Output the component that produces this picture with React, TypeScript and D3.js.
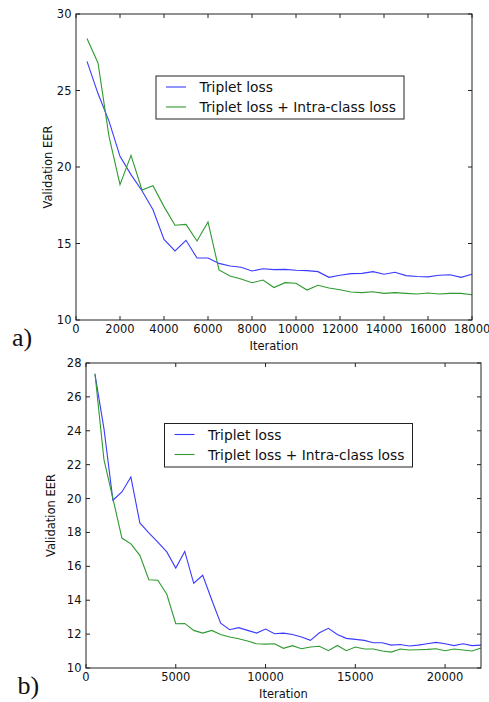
import React from "react";
import * as d3 from "d3";

// ---------- Data ----------
const iterA = [500,1000,1500,2000,2500,3000,3500,4000,4500,5000,5500,6000,6500,7000,7500,8000,8500,9000,9500,10000,10500,11000,11500,12000,12500,13000,13500,14000,14500,15000,15500,16000,16500,17000,17500,18000];
const tripletA = [26.9,24.8,23.0,20.7,19.5,18.45,17.2,15.27,14.51,15.21,14.05,14.05,13.7,13.53,13.45,13.2,13.35,13.29,13.31,13.25,13.23,13.16,12.79,12.92,13.03,13.05,13.16,12.99,13.12,12.9,12.84,12.82,12.92,12.96,12.79,12.99];
const intraA = [28.4,26.8,22.0,18.85,20.76,18.5,18.78,17.41,16.19,16.25,15.16,16.41,13.27,12.88,12.68,12.44,12.61,12.12,12.44,12.4,11.96,12.27,12.09,11.98,11.83,11.79,11.85,11.74,11.79,11.74,11.7,11.76,11.7,11.74,11.74,11.65];

const iterB = [500,1000,1500,2000,2500,3000,3500,4000,4500,5000,5500,6000,6500,7000,7500,8000,8500,9000,9500,10000,10500,11000,11500,12000,12500,13000,13500,14000,14500,15000,15500,16000,16500,17000,17500,18000,18500,19000,19500,20000,20500,21000,21500,22000];
const tripletB = [27.33,24.13,19.9,20.39,21.27,18.56,17.98,17.43,16.85,15.9,16.88,15.0,15.47,14.03,12.65,12.26,12.38,12.22,12.06,12.3,12.02,12.06,11.98,11.83,11.63,12.08,12.34,11.98,11.75,11.69,11.63,11.49,11.49,11.35,11.39,11.3,11.35,11.43,11.51,11.43,11.32,11.43,11.32,11.35];
const intraB = [27.37,22.3,20.0,17.67,17.33,16.65,15.21,15.18,14.35,12.61,12.63,12.22,12.06,12.22,11.98,11.83,11.73,11.59,11.43,11.41,11.43,11.16,11.32,11.14,11.24,11.28,11.02,11.33,11.02,11.24,11.12,11.12,11.0,10.94,11.12,11.06,11.08,11.1,11.14,11.02,11.12,11.06,11.0,11.18];

const xTicksA = [0,2000,4000,6000,8000,10000,12000,14000,16000,18000];
const yTicksA = [10,15,20,25,30];
const xTicksB = [0,5000,10000,15000,20000];
const yTicksB = [10,12,14,16,18,20,22,24,26,28];

const seriesNames = ["Triplet loss", "Triplet loss + Intra-class loss"];
const panelLabels = ["a)", "b)"];

const BLUE = "#3b3bff";
const GREEN = "#2f9a2f";
const FONT = "DejaVu Sans, sans-serif";

type PanelProps = {
  left: number; right: number; top: number; bottom: number;
  xDomain: [number, number]; yDomain: [number, number];
  xTicks: number[]; yTicks: number[];
  iters: number[]; s1: number[]; s2: number[];
  legend: { x: number; y: number; w: number; h: number };
  ylabelX: number;
  panel: string; panelX: number; panelY: number;
};

function Panel(p: PanelProps) {
  const x = d3.scaleLinear().domain(p.xDomain).range([p.left, p.right]);
  const y = d3.scaleLinear().domain(p.yDomain).range([p.bottom, p.top]);
  const line = d3.line<[number, number]>().x(d => x(d[0])).y(d => y(d[1]));
  const d1 = line(p.iters.map((it, i) => [it, p.s1[i]] as [number, number])) || "";
  const d2 = line(p.iters.map((it, i) => [it, p.s2[i]] as [number, number])) || "";
  const tl = 4;
  const fs = 11.5;
  const lg = p.legend;
  return (
    <g>
      <path d={d1} fill="none" stroke={BLUE} strokeWidth={1.1} />
      <path d={d2} fill="none" stroke={GREEN} strokeWidth={1.1} />
      <rect x={p.left} y={p.top} width={p.right - p.left} height={p.bottom - p.top} fill="none" stroke="#222" strokeWidth={1} />
      {p.xTicks.map(t => (
        <g key={"x" + t}>
          <line x1={x(t)} x2={x(t)} y1={p.bottom} y2={p.bottom - tl} stroke="#222" />
          <line x1={x(t)} x2={x(t)} y1={p.top} y2={p.top + tl} stroke="#222" />
          <text x={x(t)} y={p.bottom + 13} textAnchor="middle" fontSize={fs} fontFamily={FONT} fill="#111">{t}</text>
        </g>
      ))}
      {p.yTicks.map(t => (
        <g key={"y" + t}>
          <line x1={p.left} x2={p.left + tl} y1={y(t)} y2={y(t)} stroke="#222" />
          <line x1={p.right} x2={p.right - tl} y1={y(t)} y2={y(t)} stroke="#222" />
          <text x={p.left - 4.5} y={y(t) + 4} textAnchor="end" fontSize={fs} fontFamily={FONT} fill="#111">{t}</text>
        </g>
      ))}
      <text x={(p.left + p.right) / 2} y={p.bottom + 30} textAnchor="middle" fontSize={fs} fontFamily={FONT} fill="#111">Iteration</text>
      <text transform={`translate(${p.ylabelX},${(p.top + p.bottom) / 2}) rotate(-90)`} textAnchor="middle" fontSize={fs} fontFamily={FONT} fill="#111">Validation EER</text>
      <rect x={lg.x} y={lg.y} width={lg.w} height={lg.h} fill="#fff" stroke="#222" strokeWidth={1} />
      {seriesNames.map((n, i) => (
        <g key={n}>
          <line x1={lg.x + 10} x2={lg.x + 30} y1={lg.y + 11 + i * 20} y2={lg.y + 11 + i * 20} stroke={i === 0 ? BLUE : GREEN} strokeWidth={1.1} />
          <text x={lg.x + 43.5} y={lg.y + 11 + i * 20 + 5} fontSize={13.8} fontFamily={FONT} fill="#111">{n}</text>
        </g>
      ))}
      <text x={p.panelX} y={p.panelY} fontSize={26} fontFamily="Liberation Serif, Times New Roman, serif" fill="#111">{p.panel}</text>
    </g>
  );
}

export default function App() {
  return (
    <svg width={489} height={702} style={{ position: "absolute", left: 0, top: 0, background: "#fff" }}>
      <rect x={0} y={0} width={489} height={702} fill="#fff" />
      <Panel left={76} right={472} top={14} bottom={320}
        xDomain={[0, 18000]} yDomain={[10, 30]}
        xTicks={xTicksA} yTicks={yTicksA}
        iters={iterA} s1={tripletA} s2={intraA}
        legend={{ x: 156, y: 76, w: 248, h: 43 }}
        ylabelX={51.5}
        panel={panelLabels[0]} panelX={12} panelY={346} />
      <Panel left={86} right={481} top={363} bottom={668}
        xDomain={[0, 22000]} yDomain={[10, 28]}
        xTicks={xTicksB} yTicks={yTicksB}
        iters={iterB} s1={tripletB} s2={intraB}
        legend={{ x: 164.5, y: 423.5, w: 248, h: 43.5 }}
        ylabelX={55}
        panel={panelLabels[1]} panelX={17.5} panelY={694} />
    </svg>
  );
}
